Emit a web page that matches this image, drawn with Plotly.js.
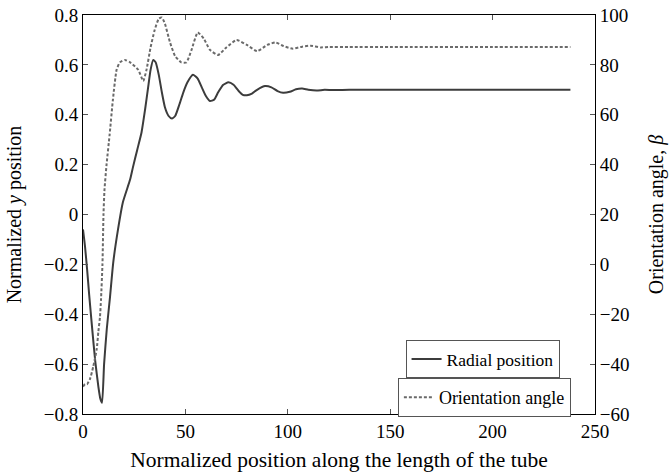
<!DOCTYPE html>
<html>
<head>
<meta charset="utf-8">
<script src="https://cdn.plot.ly/plotly-3.0.1.min.js"></script>
<style>html,body{margin:0;padding:0;background:#fff;}#chart{width:671px;height:472px;}</style>
</head>
<body>
<div id="chart"></div>
<script>
// Radial position (left axis, normalized y position)
const radialX = [0,1,2,3,4.5,6,7.5,8.5,9.3,10.3,11.6,13.2,14.8,17.1,19.5,23,24.4,26.5,28.6,30.3,31.8,33,34.3,35.5,37,38.5,40,41.8,43.4,45,47,49,51,53.7,56,58,60,62,64,66,68.5,71,73.5,76,78,80,82.5,85,88.9,92,95,97.7,101,104,107,110,114,118,122,130,140,160,180,200,220,238];
const radialY = [-0.06,-0.13,-0.22,-0.32,-0.46,-0.59,-0.69,-0.74,-0.755,-0.6,-0.46,-0.33,-0.19,-0.06,0.05,0.14,0.19,0.26,0.33,0.42,0.51,0.58,0.62,0.61,0.56,0.49,0.43,0.395,0.385,0.395,0.44,0.49,0.53,0.56,0.545,0.51,0.475,0.455,0.46,0.49,0.52,0.53,0.52,0.495,0.48,0.478,0.485,0.5,0.515,0.51,0.495,0.488,0.492,0.502,0.505,0.5,0.497,0.5,0.499,0.5,0.5,0.5,0.5,0.5,0.5,0.5];

// Orientation angle beta (right axis, degrees)
const orientX = [0,1,2,3.4,5,6.7,7.5,8.3,8.8,9.5,10,10.5,11.5,13,14.6,16.4,18,20.5,23,27,29.4,31,33,35,37,38.5,40,42.5,45,48,50.5,53,56,59,62,66,70,75,80,85,90,94,98,102.5,107,111,116,120,130,150,200,238];
const orientBeta = [-49,-48,-48,-46,-41,-34,-27,-21,-14,0,20,30,40,52,66,78,81,82,81,78,73.5,78,87,94,98.5,99,96.5,89,83.5,81,81,86,93,90.5,86,84,87,90,88,85.5,88,89,87.5,86.5,87.3,87.7,87,87.2,87.2,87.2,87.2,87.2];

const xTicks = [0,50,100,150,200,250];
const yTicks = [-0.8,-0.6,-0.4,-0.2,0,0.2,0.4,0.6,0.8];
const betaTicks = [-60,-40,-20,0,20,40,60,80,100];

const serif = 'Liberation Serif';

const traces = [
  {x: radialX, y: radialY, type: 'scatter', mode: 'lines', name: 'Radial position',
   line: {color: '#3c3c3c', width: 2, shape: 'spline', smoothing: 0.5}, legend: 'legend'},
  {x: orientX, y: orientBeta, type: 'scatter', mode: 'lines', name: 'Orientation angle', yaxis: 'y2',
   line: {color: '#6a6a6a', width: 2, dash: '3px,2px', shape: 'spline', smoothing: 0.5}, legend: 'legend2'}
];

const axisCommon = {showgrid: false, zeroline: false, showline: true, linecolor: '#000', linewidth: 1,
  ticks: 'inside', ticklen: 5, tickcolor: '#555', tickfont: {family: serif, size: 19, color: '#000'}};

const layout = {
  width: 671, height: 472,
  margin: {l: 83, r: 76, t: 15, b: 58},
  paper_bgcolor: '#fff', plot_bgcolor: '#fff',
  font: {family: serif, color: '#000'},
  xaxis: Object.assign({}, axisCommon, {range: [0, 250], tickvals: xTicks, ticktext: xTicks.map(String),
    mirror: 'ticks',
    title: {text: 'Normalized position along the length of the tube', font: {family: serif, size: 21.5}, standoff: 11}}),
  yaxis: Object.assign({}, axisCommon, {range: [-0.8, 0.8], tickvals: yTicks,
    ticktext: yTicks.map(v => v === 0 ? '0' : (v < 0 ? '\u2212' + Math.abs(v).toFixed(1) : v.toFixed(1))),
    title: {text: 'Normalized <i>y</i> position', font: {family: serif, size: 20}, standoff: 16}}),
  yaxis2: Object.assign({}, axisCommon, {range: [-60, 100], overlaying: 'y', side: 'right', tickvals: betaTicks,
    ticktext: betaTicks.map(v => v < 0 ? '\u2212' + Math.abs(v) : String(v)),
    title: {text: 'Orientation angle, <i>β</i>', font: {family: serif, size: 20}, standoff: 20}}),
  showlegend: true,
  legend: {x: 0.63, y: 0.185, xanchor: 'left', yanchor: 'top', bgcolor: '#fff', bordercolor: '#555', borderwidth: 1,
    font: {family: serif, size: 17.5}, tracegroupgap: 0},
  legend2: {x: 0.615, y: 0.09, xanchor: 'left', yanchor: 'top', bgcolor: '#fff', bordercolor: '#555', borderwidth: 1,
    font: {family: serif, size: 18}, tracegroupgap: 0}
};

Plotly.newPlot('chart', traces, layout, {displayModeBar: false, staticPlot: true});
</script>
</body>
</html>
